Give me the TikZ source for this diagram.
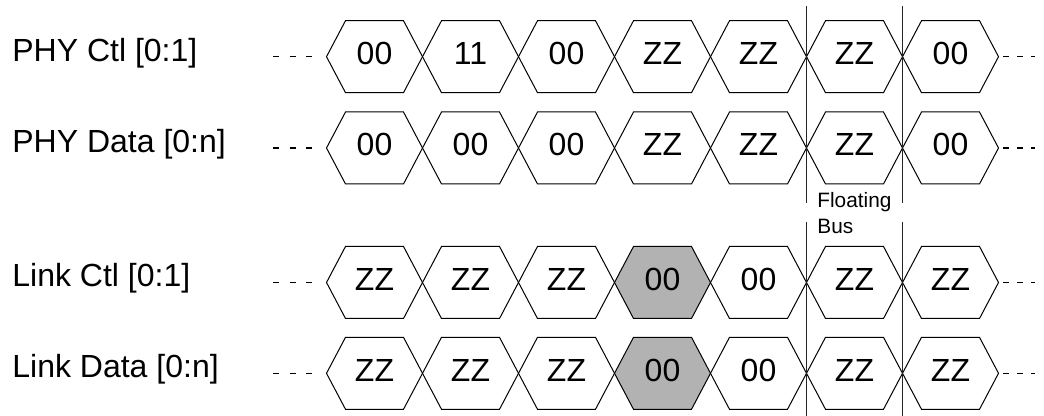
\documentclass[tikz,border=0pt]{standalone}
\usepackage{fontspec}
\setmainfont{Liberation Sans}
\usetikzlibrary{positioning}

\begin{document}
\begin{tikzpicture}[
  x=0.5pt, y=-0.5pt,
  font=\fontsize{16}{19}\selectfont,
  cell/.style={draw=black, line width=0.5pt, line join=miter},
  sig/.style={anchor=base west, inner sep=0pt},
  val/.style={anchor=base, inner sep=0pt},
  lead/.style={draw=black, line width=0.75pt},
  marker/.style={draw=black!85, line width=0.65pt},
  note/.style={align=left, anchor=base west, inner sep=0pt,
               font=\fontsize{10.4}{13.3}\selectfont},
]
\useasboundingbox (0,0) rectangle (1044,416);

% Bus rows: name / centre y / label / shaded cell / values
\foreach \r/\yc/\lbl/\s/\vals in {
  phyctl/56.7/{PHY Ctl [0:1]}/0/{00,11,00,ZZ,ZZ,ZZ,00},
  phydata/148/{PHY Data [0:n]}/0/{00,00,00,ZZ,ZZ,ZZ,00},
  linkctl/282.5/{Link Ctl [0:1]}/4/{ZZ,ZZ,ZZ,00,00,ZZ,ZZ},
  linkdata/373.3/{Link Data [0:n]}/4/{ZZ,ZZ,ZZ,00,00,ZZ,ZZ}}{
  \node[sig] (\r-lbl) at (12,\yc+4.5) {\lbl};
  \foreach \v [count=\k] in \vals {
    \pgfmathsetmacro\xc{374.5+96*(\k-1)}
    \def\cellfill{white}
    \ifnum\k=\s\def\cellfill{black!30}\fi
    \draw[cell, fill=\cellfill] (\xc-48,\yc) -- (\xc-29,\yc-36) -- (\xc+29,\yc-36)
      -- (\xc+48,\yc) -- (\xc+29,\yc+36) -- (\xc-29,\yc+36) -- cycle;
    \node[val] (\r-\k) at (\xc,\yc+8) {\v};
  }
  % leading and trailing dashes
  \coordinate (\r-in) at (273,\yc);
  \coordinate (\r-out) at (1003,\yc);
  \draw[lead, dash pattern=on 3pt off 5.35pt] (\r-in) -- ++(40,0);
  \draw[lead, dash pattern=on 3pt off 4pt] (\r-out) -- ++(32,0);
}

% Floating bus window
\node[note] (float) at (817,234) {Floating\\Bus};
\foreach \mx in {806.6,902.6} {
  \draw[marker] (\mx,6) -- (\mx,203.3);
  \draw[marker] (\mx,221.7) -- (\mx,416);
}
\end{tikzpicture}
\end{document}
